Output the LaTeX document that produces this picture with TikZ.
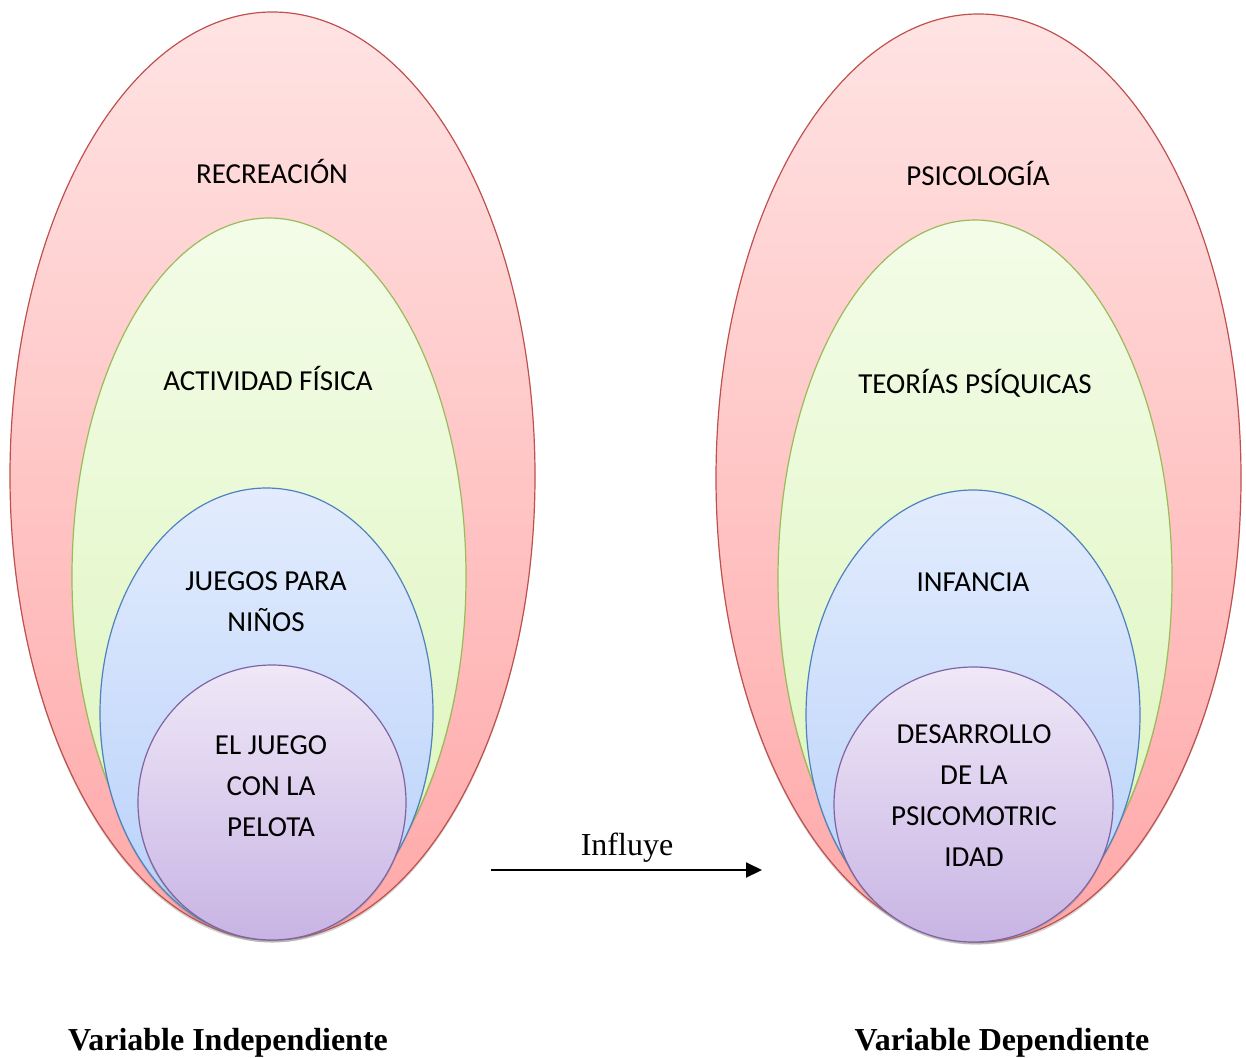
\documentclass[tikz,border=0pt]{standalone}
\usepackage{fontspec}
\setmainfont{Liberation Serif}
\newfontfamily\calibri{Carlito}
\usetikzlibrary{shapes.geometric,arrows.meta,shadows}

\definecolor{rojoborde}{HTML}{C0504D}
\definecolor{rojoarriba}{HTML}{FFE3E3}
\definecolor{rojoabajo}{HTML}{FFA8A8}
\definecolor{verdeborde}{HTML}{9BBB59}
\definecolor{verdearriba}{HTML}{F3FCE8}
\definecolor{verdeabajo}{HTML}{DCF5BA}
\definecolor{azulborde}{HTML}{4F81BD}
\definecolor{azularriba}{HTML}{E3ECFD}
\definecolor{azulabajo}{HTML}{B6D0FA}
\definecolor{moradoborde}{HTML}{8064A2}
\definecolor{moradoarriba}{HTML}{EFE8F7}
\definecolor{moradoabajo}{HTML}{C8B4E4}

\tikzset{
  capa/.style={ellipse, inner sep=0pt, line width=1.2pt,
    drop shadow={shadow xshift=0pt, shadow yshift=-2.5pt, opacity=0.35}},
  roja/.style={capa, draw=rojoborde, top color=rojoarriba, bottom color=rojoabajo,
    minimum width=525pt, minimum height=928pt},
  verde/.style={capa, draw=verdeborde, top color=verdearriba, bottom color=verdeabajo,
    minimum width=394pt, minimum height=717pt},
  azul/.style={capa, draw=azulborde, top color=azularriba, bottom color=azulabajo,
    minimum height=450pt},
  morada/.style={capa, draw=moradoborde, top color=moradoarriba, bottom color=moradoabajo,
    minimum height=275pt},
  texto/.style={font=\calibri\fontsize{29}{41}\selectfont, align=center, anchor=base, inner sep=0pt},
  titulo/.style={font=\bfseries\fontsize{32}{38}\selectfont, anchor=base, inner sep=0pt},
}

\begin{document}
\begin{tikzpicture}[x=1pt, y=-1pt]
		\useasboundingbox (0,0) rectangle (1246,1057);
		%Variable independiente
		\node[roja] (recreacion) at (272.5,476) {};
		\node[verde] (actividad) at (269,576.5) {};
		\node[azul, minimum width=333pt] (juegos) at (266.5,713) {};
		\node[morada, minimum width=268pt] (pelota) at (272,802.5) {};
		\node[texto] (trecreacion) at (272,183) {RECREACIÓN};
		\node[texto] (tactividad) at (268,390) {ACTIVIDAD FÍSICA};
		\node[texto] (tjuegos) at (266,631) {JUEGOS PARA\\NIÑOS};
		\node[texto] (tpelota) at (271,836) {EL JUEGO\\CON LA\\PELOTA};
		%Variable dependiente
		\node[roja] (psicologia) at (978.5,478) {};
		\node[verde] (teorias) at (975,578.5) {};
		\node[azul, minimum width=334pt] (infancia) at (973,715) {};
		\node[morada, minimum width=279pt] (desarrollo) at (973.5,804.5) {};
		\node[texto] (tpsicologia) at (978,185) {PSICOLOGÍA};
		\node[texto] (tteorias) at (975,393) {TEORÍAS PSÍQUICAS};
		\node[texto] (tinfancia) at (973,591) {INFANCIA};
		\node[texto] (tdesarrollo) at (974,866) {DESARROLLO\\DE LA\\PSICOMOTRIC\\IDAD};
		%Flecha
		\coordinate (inicio) at (491,870);
		\coordinate (fin) at (762,870);
		\draw[line width=2pt, -{Triangle[length=16pt, width=15pt]}] (inicio) -- (fin);
		\node[anchor=base, inner sep=0pt, font=\fontsize{32}{38}\selectfont] (influye) at (627,855) {Influye};
		%Titulos
		\node[titulo] (independiente) at (228,1050) {Variable Independiente};
		\node[titulo] (dependiente) at (1002,1050) {Variable Dependiente};
\end{tikzpicture}
\end{document}
